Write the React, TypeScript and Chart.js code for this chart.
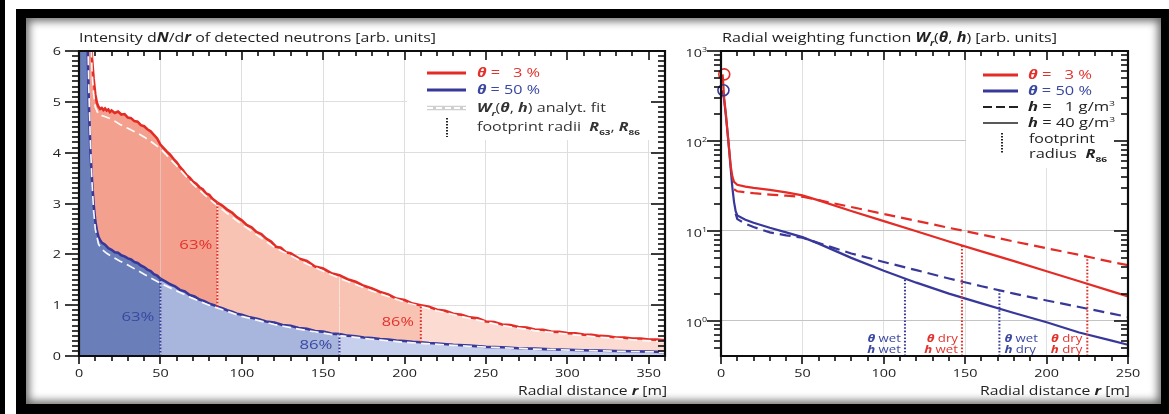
import React, { useEffect, useRef } from 'react';
import { Chart, registerables } from 'chart.js';
Chart.register(...registerables);

// ---------------- LEFT PANEL DATA: intensity dN/dr ----------------
const blueR = [0, 2, 4, 5, 6, 7, 8, 9, 10, 11, 12, 13, 14, 16, 18, 20, 22, 24, 26, 28, 30, 32, 34, 36, 38, 40, 42, 44, 46, 48, 50, 53, 56, 59, 62, 65, 68, 71, 74, 77, 80, 83, 85, 88, 91, 94, 97, 100, 105, 110, 115, 120, 125, 130, 135, 140, 145, 150, 155, 160, 165, 170, 175, 180, 185, 190, 195, 200, 205, 210, 215, 220, 230, 240, 250, 260, 270, 280, 290, 300, 310, 320, 330, 340, 350, 360];
const blueN = [40, 20, 9.0, 6.6, 5.0, 4.05, 3.45, 2.98, 2.66, 2.46, 2.34, 2.28, 2.23, 2.19, 2.12, 2.09, 2.04, 2.03, 1.98, 1.96, 1.92, 1.9, 1.85, 1.83, 1.78, 1.75, 1.7, 1.67, 1.61, 1.58, 1.52, 1.47, 1.41, 1.37, 1.3, 1.27, 1.2, 1.17, 1.11, 1.08, 1.03, 1.0, 0.97, 0.94, 0.9, 0.87, 0.83, 0.81, 0.76, 0.73, 0.68, 0.66, 0.61, 0.595, 0.55, 0.535, 0.49, 0.48, 0.44, 0.43, 0.4, 0.39, 0.365, 0.355, 0.335, 0.325, 0.305, 0.295, 0.28, 0.27, 0.255, 0.245, 0.22, 0.205, 0.18, 0.172, 0.152, 0.146, 0.13, 0.124, 0.112, 0.106, 0.097, 0.093, 0.086, 0.08];

const redR = [6, 7, 8, 9, 10, 11, 12, 13, 14, 15, 16, 17, 18, 19, 20, 22, 24, 26, 28, 30, 32, 34, 36, 38, 40, 42, 44, 46, 48, 50, 52, 54, 56, 58, 60, 62, 64, 66, 68, 70, 72, 74, 76, 78, 80, 82, 85, 88, 91, 94, 97, 100, 103, 106, 109, 112, 115, 118, 121, 124, 127, 130, 135, 140, 145, 150, 155, 160, 165, 170, 175, 180, 185, 190, 195, 200, 205, 210, 215, 220, 225, 230, 235, 240, 245, 250, 255, 260, 265, 270, 275, 280, 285, 290, 295, 300, 305, 310, 315, 320, 325, 330, 335, 340, 345, 350, 355, 360];
const redN = [8.0, 6.5, 5.85, 5.45, 5.15, 4.98, 4.9, 4.86, 4.88, 4.84, 4.87, 4.83, 4.85, 4.8, 4.83, 4.78, 4.81, 4.75, 4.76, 4.69, 4.68, 4.62, 4.61, 4.54, 4.52, 4.46, 4.42, 4.35, 4.28, 4.16, 4.09, 4.02, 3.96, 3.88, 3.81, 3.72, 3.65, 3.56, 3.51, 3.43, 3.39, 3.32, 3.28, 3.2, 3.17, 3.09, 3.02, 2.96, 2.88, 2.82, 2.73, 2.67, 2.58, 2.53, 2.44, 2.4, 2.31, 2.25, 2.15, 2.13, 2.04, 2.02, 1.92, 1.87, 1.76, 1.72, 1.63, 1.59, 1.51, 1.46, 1.38, 1.33, 1.26, 1.21, 1.13, 1.1, 1.03, 1.0, 0.97, 0.91, 0.89, 0.83, 0.81, 0.76, 0.74, 0.68, 0.67, 0.62, 0.61, 0.57, 0.56, 0.52, 0.515, 0.48, 0.475, 0.45, 0.445, 0.42, 0.415, 0.395, 0.39, 0.365, 0.362, 0.345, 0.343, 0.325, 0.322, 0.31];

const redFitR = [7, 8, 9, 10, 12, 15, 20, 25, 30, 35, 40, 45, 50, 60, 70, 80, 90, 100, 120, 140, 160, 180, 200, 220, 240, 260, 280, 300, 320, 340, 360];
const redFitN = [6.6, 5.6, 5.15, 4.9, 4.75, 4.72, 4.66, 4.56, 4.48, 4.4, 4.31, 4.2, 4.08, 3.74, 3.38, 3.09, 2.83, 2.59, 2.14, 1.81, 1.53, 1.28, 1.06, 0.89, 0.74, 0.6, 0.5, 0.43, 0.37, 0.32, 0.28];
const blueFitR = [5, 6, 7, 8, 9, 10, 12, 14, 17, 20, 25, 30, 40, 50, 60, 70, 80, 90, 100, 120, 140, 160, 180, 200, 240, 280, 320, 360];
const blueFitN = [7.0, 5.3, 4.2, 3.4, 2.85, 2.5, 2.2, 2.1, 2.02, 1.96, 1.87, 1.79, 1.61, 1.43, 1.28, 1.13, 1.0, 0.89, 0.78, 0.62, 0.5, 0.4, 0.33, 0.27, 0.19, 0.135, 0.1, 0.075];

const footprintBlue = [50, 160]; // R63, R86 for theta = 50 %
const footprintRed = [85, 210]; // R63, R86 for theta = 3 %
const leftXTicks = [0, 50, 100, 150, 200, 250, 300, 350];
const leftYTicks = [0, 1, 2, 3, 4, 5, 6];

// ---------------- RIGHT PANEL DATA: radial weighting W_r ----------------
const redWetAirR = [1, 2, 3, 4, 5, 6, 7, 8, 10, 15, 20, 30, 40, 50, 60, 80, 100, 120, 140, 160, 180, 200, 220, 240, 250];
const redWetAirW = [550, 290, 200, 125, 80, 52, 40, 35, 32.5, 31, 30, 28.5, 26.8, 24.8, 21.8, 16.6, 12.8, 9.9, 7.6, 5.9, 4.6, 3.55, 2.75, 2.12, 1.86];
const redDryAirR = [8, 10, 20, 30, 40, 50, 60, 80, 100, 120, 140, 160, 180, 200, 220, 240, 250];
const redDryAirW = [29, 27.5, 26.2, 25.3, 24.6, 23.9, 21.9, 18.4, 15.4, 12.9, 10.8, 9.1, 7.6, 6.4, 5.4, 4.5, 4.15];
const blueWetAirR = [1, 2, 3, 4, 5, 6, 7, 8, 9, 10, 15, 20, 30, 40, 50, 60, 80, 100, 120, 140, 160, 180, 200, 220, 240, 250];
const blueWetAirW = [366, 280, 190, 125, 80, 48, 30, 21, 16.5, 14.8, 13.3, 12.3, 10.8, 9.6, 8.5, 7.2, 5.0, 3.6, 2.65, 2.0, 1.56, 1.22, 0.96, 0.74, 0.6, 0.54];
const blueDryAirR = [9, 10, 15, 20, 30, 40, 50, 60, 80, 100, 120, 140, 160, 180, 200, 220, 240, 250];
const blueDryAirW = [15.5, 13.5, 12.0, 11.0, 9.6, 8.9, 8.4, 7.3, 5.6, 4.5, 3.65, 2.95, 2.42, 2.0, 1.68, 1.42, 1.2, 1.1];
const startPoints = [{ r: 2, w: 550 }, { r: 1.5, w: 366 }]; // theta 3 %, theta 50 %
const r86 = [113, 148, 171, 225]; // theta wet/h wet, theta dry/h wet, theta wet/h dry, theta dry/h dry
const rightXTicks = [0, 50, 100, 150, 200, 250];
const rightYTicks = [1, 10, 100, 1000];
const rightYMin = 0.405;

// ---------------- styles ----------------
const RED = '#e42c26';
const BLUE = '#38389a';
const RED_T = '#e3322c';
const BLUE_T = '#3a48a0';
const INK = '#222222';
const BLUE_FILLS = ['#6a7fba', '#a8b6de', '#c6cfeb'];
const RED_FILLS = ['#f4a08e', '#f9c3b4', '#fcdcd2'];
const FONT = '"Open Sans", "DejaVu Sans", sans-serif';

type Run = { t: string; b?: boolean; i?: boolean; sub?: boolean; sup?: boolean };
const T = (t: string): Run => ({ t });
const BI = (t: string): Run => ({ t, b: true, i: true });
const BIsub = (t: string): Run => ({ t, b: true, i: true, sub: true });
const Bsub = (t: string): Run => ({ t, b: true, sub: true });
const SUP = (t: string): Run => ({ t, sup: true });

function runFont(r: Run, size: number) {
  const s = r.sub || r.sup ? size * 0.62 : size;
  return `${r.i ? 'italic ' : ''}${r.b ? 'bold ' : ''}${s}px ${FONT}`;
}

function drawRich(ctx: any, runs: Run[], x: number, y: number, size: number, color: string, align = 'left', width?: number, sx = 1.22) {
  ctx.save();
  ctx.setLineDash([]);
  ctx.textBaseline = 'alphabetic';
  ctx.textAlign = 'left';
  let total = 0;
  const ws = runs.map((r) => {
    ctx.font = runFont(r, size);
    const w = ctx.measureText(r.t).width;
    total += w;
    return w;
  });
  const k = width ? width / total : sx;
  const w = total * k;
  const x0 = align === 'left' ? x : align === 'right' ? x - w : x - w / 2;
  ctx.translate(x0, y);
  ctx.scale(k, 1);
  ctx.fillStyle = color;
  let cx = 0;
  const base = size * 0.36;
  runs.forEach((r, i) => {
    ctx.font = runFont(r, size);
    const dy = r.sub ? size * 0.3 : r.sup ? -size * 0.45 : 0;
    ctx.fillText(r.t, cx, base + dy);
    cx += ws[i];
  });
  ctx.restore();
}

function seg(ctx: any, x1: number, y1: number, x2: number, y2: number, color: string, w: number, dash: number[] = []) {
  ctx.save();
  ctx.strokeStyle = color;
  ctx.lineWidth = w;
  ctx.setLineDash(dash);
  ctx.beginPath();
  ctx.moveTo(x1, y1);
  ctx.lineTo(x2, y2);
  ctx.stroke();
  ctx.restore();
}

type Mark = { v: number; major: boolean };

// axis box with tick marks: outward on left / bottom, inward on top / right
function drawFrame(ctx: any, a: any, xs: any, ys: any, xm: Mark[], ym: Mark[]) {
  const K = '#0d0d0d';
  for (let i = 0; i < xm.length; i++) {
    const m = xm[i];
    const p = Math.round(xs.getPixelForValue(m.v));
    seg(ctx, p, a.bottom, p, a.bottom + (m.major ? 8 : 5), K, 1.6);
    seg(ctx, p, a.top, p, a.top + (m.major ? 9 : 5), K, 1.6);
  }
  for (let i = 0; i < ym.length; i++) {
    const m = ym[i];
    const p = Math.round(ys.getPixelForValue(m.v));
    seg(ctx, a.left - (m.major ? 14 : 7), p, a.left, p, K, 1.6);
    seg(ctx, a.right, p, a.right - (m.major ? 14 : 7), p, K, 1.6);
  }
  seg(ctx, a.left, a.top, a.right, a.top, K, 2.2);
  seg(ctx, a.left, a.bottom, a.right, a.bottom, K, 2.2);
  seg(ctx, a.left, a.top - 1, a.left, a.bottom + 1, K, 2.2);
  seg(ctx, a.right, a.top - 1, a.right, a.bottom + 1, K, 2.2);
}

function linMarks(max: number, step: number, majorEvery: number): Mark[] {
  const out: Mark[] = [];
  for (let i = 0; i * step <= max + 1e-9; i++) out.push({ v: i * step, major: i % majorEvery === 0 });
  return out;
}
function logMarks(min: number, max: number): Mark[] {
  const out: Mark[] = [];
  for (let e = -1; e <= 3; e++) {
    for (let m = 1; m <= 9; m++) {
      const v = m * Math.pow(10, e);
      if (v >= min && v <= max * 1.0001) out.push({ v, major: m === 1 });
    }
  }
  return out;
}

function pts(rs: number[], vs: number[]) {
  return rs.map((r, i) => ({ x: r, y: vs[i] }));
}
function interp(rs: number[], vs: number[], r: number, log = false) {
  for (let i = 0; i < rs.length - 1; i++) {
    if (r >= rs[i] && r <= rs[i + 1]) {
      const t = (r - rs[i]) / (rs[i + 1] - rs[i]);
      if (log) return Math.exp(Math.log(vs[i]) + t * (Math.log(vs[i + 1]) - Math.log(vs[i])));
      return vs[i] + t * (vs[i + 1] - vs[i]);
    }
  }
  return vs[vs.length - 1];
}
const zoneColor = (bounds: number[], colors: string[]) => (c: any) => {
  const x = c.p0.parsed.x;
  return x < bounds[0] ? colors[0] : x < bounds[1] ? colors[1] : colors[2];
};

function dotted(data: any[], color: string) {
  return {
    data,
    borderColor: color,
    borderWidth: 2,
    borderDash: [1.6, 1.8],
    pointRadius: 0,
    fill: false,
    order: 0,
  };
}

// ---------------- LEFT CHART ----------------
function leftConfig(): any {
  const xm = linMarks(360, 10, 5);
  const ym = linMarks(6, 0.1, 10);
  const plugin = {
    id: 'leftDecor',
    beforeDatasetsDraw(chart: any) {
      const { ctx, chartArea: a } = chart;
      ctx.save();
      ctx.fillStyle = '#ffffff';
      ctx.fillRect(a.left + 328, a.top + 1, a.right - a.left - 330, 88);
      ctx.restore();
    },
    afterDraw(chart: any) {
      const { ctx, chartArea: a } = chart;
      const xs = chart.scales.x;
      const ys = chart.scales.y;
      for (const v of leftXTicks) drawRich(ctx, [T(String(v))], xs.getPixelForValue(v), a.bottom + 17, 11.5, INK, 'center', undefined, 1.25);
      for (const v of leftYTicks) drawRich(ctx, [T(String(v))], a.left - 18, ys.getPixelForValue(v), 11.5, INK, 'right', undefined, 1.25);
      drawRich(ctx, [T('Intensity d'), BI('N'), T('/d'), BI('r'), T(' of detected neutrons [arb. units]')], a.left, a.top - 14, 13.5, INK, 'left', 357);
      drawRich(ctx, [T('Radial distance '), BI('r'), T(' [m]')], a.right + 2, a.bottom + 34, 13, INK, 'right', 149);
      // legend
      const lx1 = a.right - 238, lx2 = a.right - 199, tx = a.right - 188;
      seg(ctx, lx1, a.top + 22, lx2, a.top + 22, RED, 3);
      drawRich(ctx, [BI('θ'), T(' =   3 %')], tx, a.top + 22, 12, RED_T, 'left', 63);
      seg(ctx, lx1, a.top + 39, lx2, a.top + 39, BLUE, 3);
      drawRich(ctx, [BI('θ'), T(' = 50 %')], tx, a.top + 39, 12, BLUE_T, 'left', 63);
      seg(ctx, lx1, a.top + 57, lx2, a.top + 57, '#cfcfcf', 4.5);
      seg(ctx, lx1, a.top + 57, lx2, a.top + 57, '#ffffff', 2, [6, 3]);
      drawRich(ctx, [BI('W'), BIsub('r'), T('('), BI('θ'), T(', '), BI('h'), T(') analyt. fit')], tx, a.top + 57, 12, '#333', 'left', 129);
      seg(ctx, a.right - 218, a.top + 67, a.right - 218, a.top + 86, '#222', 2, [1.5, 1.5]);
      drawRich(ctx, [T('footprint radii  '), BI('R'), Bsub('63'), T(', '), BI('R'), Bsub('86')], tx, a.top + 76, 12, '#333', 'left', 163);
      // percentage labels
      drawRich(ctx, [T('63%')], xs.getPixelForValue(footprintRed[0]) - 5, ys.getPixelForValue(2.2), 12.5, RED_T, 'right', 33);
      drawRich(ctx, [T('86%')], xs.getPixelForValue(footprintRed[1]) - 7, ys.getPixelForValue(0.67), 12.5, RED_T, 'right', 32);
      drawRich(ctx, [T('63%')], xs.getPixelForValue(footprintBlue[0]) - 6, ys.getPixelForValue(0.78), 12.5, BLUE_T, 'right', 33);
      drawRich(ctx, [T('86%')], xs.getPixelForValue(footprintBlue[1]) - 7, ys.getPixelForValue(0.22), 12.5, BLUE_T, 'right', 33);
      drawFrame(ctx, a, xs, ys, xm, ym);
    },
  };
  const dots = [
    dotted([{ x: footprintBlue[0], y: 0 }, { x: footprintBlue[0], y: interp(blueR, blueN, footprintBlue[0]) }], BLUE),
    dotted([{ x: footprintBlue[1], y: 0 }, { x: footprintBlue[1], y: interp(blueR, blueN, footprintBlue[1]) }], BLUE),
    dotted([{ x: footprintRed[0], y: interp(blueR, blueN, footprintRed[0]) }, { x: footprintRed[0], y: interp(redR, redN, footprintRed[0]) }], RED),
    dotted([{ x: footprintRed[1], y: interp(blueR, blueN, footprintRed[1]) }, { x: footprintRed[1], y: interp(redR, redN, footprintRed[1]) }], RED),
  ];
  return {
    type: 'line',
    data: {
      datasets: [
        {
          data: pts(blueR, blueN),
          borderColor: BLUE,
          borderWidth: 2.6,
          pointRadius: 0,
          fill: 'origin',
          backgroundColor: BLUE_FILLS[0],
          segment: { backgroundColor: zoneColor(footprintBlue, BLUE_FILLS) },
          order: 3,
        },
        {
          data: pts(redR, redN),
          borderColor: RED,
          borderWidth: 2.6,
          pointRadius: 0,
          fill: 0,
          backgroundColor: RED_FILLS[0],
          segment: { backgroundColor: zoneColor(footprintRed, RED_FILLS) },
          order: 4,
        },
        { data: pts(redFitR, redFitN), borderColor: 'rgba(255,255,255,0.95)', borderWidth: 1.7, borderDash: [9, 5], pointRadius: 0, fill: false, order: 1 },
        { data: pts(blueFitR, blueFitN), borderColor: 'rgba(255,255,255,0.95)', borderWidth: 1.7, borderDash: [9, 5], pointRadius: 0, fill: false, order: 1 },
        ...dots,
      ],
    },
    options: {
      animation: false,
      responsive: false,
      events: [],
      layout: { padding: { top: 33, right: 15, left: 0, bottom: 0 } },
      plugins: { legend: { display: false }, tooltip: { enabled: false } },
      scales: {
        x: {
          type: 'linear',
          min: 0,
          max: 360,
          border: { display: false },
          grid: { color: '#dedede', drawTicks: false, lineWidth: 1 },
          ticks: { display: false },
          afterBuildTicks: (s: any) => { s.ticks = leftXTicks.map((v) => ({ value: v })); },
          afterFit: (s: any) => { s.height = 48; },
        },
        y: {
          type: 'linear',
          min: 0,
          max: 6,
          border: { display: false },
          grid: { color: '#dedede', drawTicks: false, lineWidth: 1 },
          ticks: { display: false },
          afterBuildTicks: (s: any) => { s.ticks = leftYTicks.map((v) => ({ value: v })); },
          afterFit: (s: any) => { s.width = 53; },
        },
      },
    },
    plugins: [plugin],
  };
}

// ---------------- RIGHT CHART ----------------
function rightConfig(): any {
  const xm = linMarks(250, 10, 5);
  const ym = logMarks(rightYMin, 1000);
  const labels = [
    { runs: [[BI('θ'), T(' wet')], [BI('h'), T(' wet')]], color: BLUE_T, align: 'right', dx: -4 },
    { runs: [[BI('θ'), T(' dry')], [BI('h'), T(' wet')]], color: RED_T, align: 'right', dx: -4 },
    { runs: [[BI('θ'), T(' wet')], [BI('h'), T(' dry')]], color: BLUE_T, align: 'left', dx: 5 },
    { runs: [[BI('θ'), T(' dry')], [BI('h'), T(' dry')]], color: RED_T, align: 'right', dx: -5 },
  ];
  const plugin = {
    id: 'rightDecor',
    beforeDatasetsDraw(chart: any) {
      const { ctx, chartArea: a } = chart;
      ctx.save();
      ctx.fillStyle = '#ffffff';
      ctx.fillRect(a.left + 245, a.top + 1, a.right - a.left - 247, 116);
      ctx.restore();
    },
    afterDraw(chart: any) {
      const { ctx, chartArea: a } = chart;
      const xs = chart.scales.x;
      const ys = chart.scales.y;
      for (const v of rightXTicks) drawRich(ctx, [T(String(v))], xs.getPixelForValue(v), a.bottom + 17, 11.5, INK, 'center', undefined, 1.25);
      for (const v of rightYTicks) {
        const e = Math.round(Math.log10(v));
        drawRich(ctx, [T('10'), SUP(String(e))], a.left - 14, ys.getPixelForValue(v) + 2, 11.5, INK, 'right', undefined, 1.25);
      }
      drawRich(ctx, [T('Radial weighting function '), BI('W'), BIsub('r'), T('('), BI('θ'), T(', '), BI('h'), T(') [arb. units]')], a.left + 1, a.top - 14, 13.5, INK, 'left', 335);
      drawRich(ctx, [T('Radial distance '), BI('r'), T(' [m]')], a.right + 2, a.bottom + 34, 13, INK, 'right', 150);
      // legend
      const lx1 = a.right - 145, lx2 = a.right - 110, tx = a.right - 100;
      seg(ctx, lx1, a.top + 24, lx2, a.top + 24, RED, 3);
      drawRich(ctx, [BI('θ'), T(' =   3 %')], tx, a.top + 24, 12, RED_T, 'left', 64);
      seg(ctx, lx1, a.top + 40, lx2, a.top + 40, BLUE, 3);
      drawRich(ctx, [BI('θ'), T(' = 50 %')], tx, a.top + 40, 12, BLUE_T, 'left', 64);
      seg(ctx, lx1, a.top + 56, lx2, a.top + 56, '#222', 2, [9, 4]);
      drawRich(ctx, [BI('h'), T(' =   1 g/m'), SUP('3')], tx, a.top + 56, 12, INK, 'left', 87);
      seg(ctx, lx1, a.top + 72, lx2, a.top + 72, '#222', 1.5);
      drawRich(ctx, [BI('h'), T(' = 40 g/m'), SUP('3')], tx, a.top + 72, 12, INK, 'left', 87);
      seg(ctx, a.right - 126, a.top + 82, a.right - 126, a.top + 102, '#222', 2, [1.5, 1.5]);
      drawRich(ctx, [T('footprint')], tx + 1, a.top + 88, 12, INK, 'left', 66);
      drawRich(ctx, [T('radius  '), BI('R'), Bsub('86')], tx + 1, a.top + 103, 12, INK, 'left', 78);
      // footprint labels at bottom
      labels.forEach((l, i) => {
        const px = xs.getPixelForValue(r86[i]) + l.dx;
        drawRich(ctx, l.runs[0], px, a.bottom - 18, 11, l.color, l.align, undefined, 1.2);
        drawRich(ctx, l.runs[1], px, a.bottom - 7, 11, l.color, l.align, undefined, 1.2);
      });
      drawFrame(ctx, a, xs, ys, xm, ym);
    },
  };
  const curve = (rs: number[], ws: number[], color: string, dash: number[]) => ({
    data: pts(rs, ws),
    borderColor: color,
    borderWidth: 2.2,
    borderDash: dash,
    pointRadius: 0,
    fill: false,
    order: 2,
  });
  const circle = (p: { r: number; w: number }, color: string) => ({
    data: [{ x: p.r, y: p.w }],
    showLine: false,
    pointRadius: 5.5,
    pointBorderWidth: 1.6,
    pointBackgroundColor: 'rgba(0,0,0,0)',
    pointBorderColor: color,
    clip: false,
    order: 1,
  });
  return {
    type: 'line',
    data: {
      datasets: [
        curve(redWetAirR, redWetAirW, RED, []),
        curve(redDryAirR, redDryAirW, RED, [11, 6]),
        curve(blueWetAirR, blueWetAirW, BLUE, []),
        curve(blueDryAirR, blueDryAirW, BLUE, [11, 6]),
        circle(startPoints[0], RED),
        circle(startPoints[1], BLUE),
        dotted([{ x: r86[0], y: rightYMin }, { x: r86[0], y: interp(blueWetAirR, blueWetAirW, r86[0], true) }], BLUE),
        dotted([{ x: r86[1], y: rightYMin }, { x: r86[1], y: interp(redWetAirR, redWetAirW, r86[1], true) }], RED),
        dotted([{ x: r86[2], y: rightYMin }, { x: r86[2], y: interp(blueDryAirR, blueDryAirW, r86[2], true) }], BLUE),
        dotted([{ x: r86[3], y: rightYMin }, { x: r86[3], y: interp(redDryAirR, redDryAirW, r86[3], true) }], RED),
      ],
    },
    options: {
      animation: false,
      responsive: false,
      events: [],
      layout: { padding: { top: 33, right: 33, left: 0, bottom: 0 } },
      plugins: { legend: { display: false }, tooltip: { enabled: false } },
      scales: {
        x: {
          type: 'linear',
          min: 0,
          max: 250,
          border: { display: false },
          grid: { color: '#e0e0e0', drawTicks: false, lineWidth: 1 },
          ticks: { display: false },
          afterBuildTicks: (s: any) => { s.ticks = rightXTicks.map((v) => ({ value: v })); },
          afterFit: (s: any) => { s.height = 48; },
        },
        y: {
          type: 'logarithmic',
          min: rightYMin,
          max: 1000,
          border: { display: false },
          grid: { color: '#c4c4c4', drawTicks: false, lineWidth: 1 },
          ticks: { display: false },
          afterBuildTicks: (s: any) => { s.ticks = rightYTicks.map((v) => ({ value: v })); },
          afterFit: (s: any) => { s.width = 41; },
        },
      },
    },
    plugins: [plugin],
  };
}

export default function App() {
  const lRef = useRef<HTMLCanvasElement>(null);
  const rRef = useRef<HTMLCanvasElement>(null);
  useEffect(() => {
    const c1 = new Chart(lRef.current as HTMLCanvasElement, leftConfig());
    const c2 = new Chart(rRef.current as HTMLCanvasElement, rightConfig());
    return () => {
      c1.destroy();
      c2.destroy();
    };
  }, []);
  return (
    <div style={{ position: 'absolute', left: 0, top: 0, width: 1169, height: 414, background: '#fff', overflow: 'hidden' }}>
      <div style={{ position: 'absolute', left: 0, top: 0, width: 5, height: 414, background: '#000' }} />
      <div style={{ position: 'absolute', left: 16, top: 9, width: 1153, height: 405, background: '#000' }} />
      <div
        style={{
          position: 'absolute',
          left: 26,
          top: 18,
          width: 1135,
          height: 386,
          background: '#fff',
          boxShadow: 'inset 0 0 8px 3px rgba(0,0,0,0.6)',
        }}
      >
        <canvas ref={lRef} width={654} height={386} style={{ position: 'absolute', left: 0, top: 0 }} />
        <canvas ref={rRef} width={481} height={386} style={{ position: 'absolute', left: 654, top: 0 }} />
      </div>
    </div>
  );
}
